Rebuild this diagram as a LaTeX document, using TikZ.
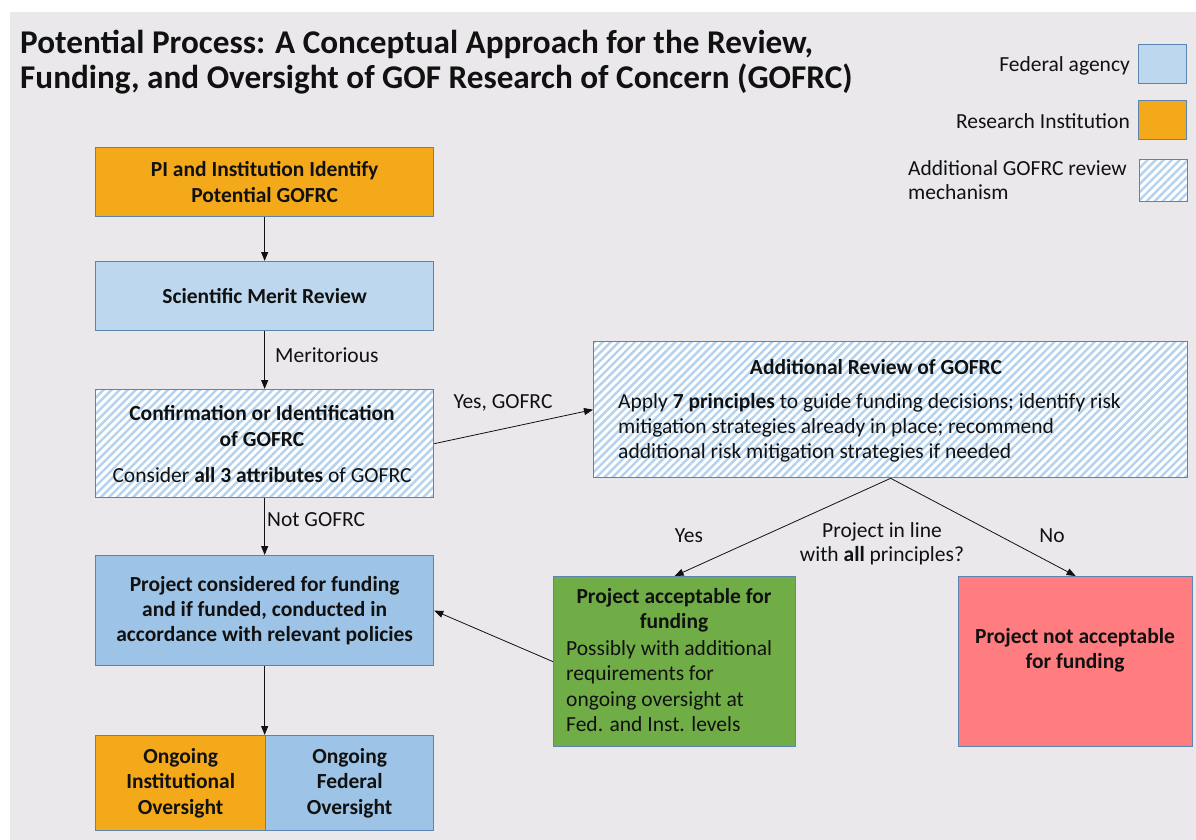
\documentclass[tikz,border=0pt]{standalone}
\usepackage{fontspec}
\setmainfont{Carlito}
\usetikzlibrary{patterns.meta,arrows.meta,calc}
\definecolor{bg}{HTML}{EAE8EB}
\definecolor{bordc}{HTML}{5B84B1}
\definecolor{lblue}{HTML}{BDD7EE}
\definecolor{mblue}{HTML}{9DC3E6}
\definecolor{orng}{HTML}{F4A91B}
\definecolor{grn}{HTML}{70AD47}
\definecolor{rd}{HTML}{FF7C80}
\definecolor{hatchc}{HTML}{B4D2EE}
\definecolor{ink}{HTML}{111111}
\begin{document}
\begin{tikzpicture}[x=1pt,y=-1pt,
 box/.style={draw=bordc,line width=1.3pt,inner sep=0pt,anchor=north west},
 hatch/.style={preaction={fill=white},pattern={Lines[angle=45,distance=5.7pt,line width=2.4pt]},pattern color=hatchc},
 txt/.style={font=\fontsize{21.5}{25.3}\selectfont, align=center, inner sep=0pt, text=ink},
 btxt/.style={txt,font=\fontsize{21.5}{25.3}\selectfont\bfseries},
 lbl/.style={font=\fontsize{21.5}{24.5}\selectfont, inner sep=0pt, text=ink},
 arr/.style={-{Triangle[length=9pt,width=7pt]}, line width=0.8pt, ink}]
\useasboundingbox (0,0) rectangle (1196,840);
\fill[white] (0,0) rectangle (1196,840);
\fill[bg] (10,12) rectangle (1196,840);

% title
\node[anchor=north west, align=left, font=\fontsize{33.2}{35}\selectfont\bfseries, inner sep=0pt, text=ink] (title) at (20,30)
 {Potential Process: A Conceptual Approach for the Review,\\Funding, and Oversight of GOF Research of Concern (GOFRC)};

% legend
\node[box, fill=lblue, minimum width=48, minimum height=39] (lf) at (1138,44) {};
\node[box, fill=orng, minimum width=48, minimum height=39] (lr) at (1138,100) {};
\node[box, hatch, minimum width=48, minimum height=42] (lh) at (1138,158) {};
\node[lbl, anchor=east] (lft) at (1130,66) {Federal agency};
\node[lbl, anchor=east] (lrt) at (1130,121) {Research Institution};
\node[lbl, anchor=west, align=left] (lht) at (908,180) {Additional GOFRC review\\mechanism};

% boxes
\node[box, fill=orng, minimum width=338, minimum height=69] (pi) at (95,147) {};
\node[box, fill=lblue, minimum width=338, minimum height=69] (smr) at (95,261) {};
\node[box, hatch, minimum width=338, minimum height=108] (conf) at (95,389) {};
\node[box, fill=mblue, minimum width=338, minimum height=110] (cons) at (95,555) {};
\node[box, fill=orng, minimum width=170, minimum height=95] (oi) at (95,735) {};
\node[box, fill=mblue, minimum width=168, minimum height=95] (of) at (265,735) {};
\node[box, hatch, minimum width=594, minimum height=136] (add) at (593,341) {};
\node[box, fill=grn, minimum width=242, minimum height=170] (acc) at (553,576) {};
\node[box, fill=rd, minimum width=234, minimum height=170] (nacc) at (958,576) {};

% box texts
\node[btxt] (pit) at (pi.center) {PI and Institution Identify\\Potential GOFRC};
\node[btxt] (smrt) at (smr.center) {Scientific Merit Review};
\node[btxt] (conft) at (262,426) {Confirmation or Identification\\of GOFRC};
\node[txt] (confs) at (262,475) {Consider \textbf{all 3 attributes} of GOFRC};
\node[btxt] (const) at (cons.center) {Project considered for funding\\and if funded, conducted in\\accordance with relevant policies};
\node[btxt] (oit) at (oi.center) {Ongoing\\Institutional\\Oversight};
\node[btxt] (oft) at (of.center) {Ongoing\\Federal\\Oversight};
\node[btxt] (addt) at (876,367) {Additional Review of GOFRC};
\node[txt, anchor=west, align=left] (addb) at (618,428) {Apply \textbf{7 principles} to guide funding decisions; identify risk\\mitigation strategies already in place; recommend\\additional risk mitigation strategies if needed};
\node[btxt] (acct) at (674,610.5) {Project acceptable for\\funding};
\node[txt, anchor=west, align=left] (accb) at (566,686) {Possibly with additional\\requirements for\\ongoing oversight at\\Fed. and Inst. levels};
\node[btxt] (nacct) at (1075,650) {Project not acceptable\\for funding};

% labels
\node[lbl, anchor=west] (l1) at (275,355) {Meritorious};
\node[lbl] (l2) at (503,403) {Yes, GOFRC};
\node[lbl, anchor=west] (l3) at (267,520) {Not GOFRC};
\node[lbl] (l4) at (689,536) {Yes};
\node[lbl, align=center] (l5) at (882,544) {Project in line\\with \textbf{all} principles?};
\node[lbl] (l6) at (1052,536) {No};

% connectors
\draw[arr] (pi.south) -- (smr.north);
\draw[arr] (smr.south) -- (conf.north);
\draw[arr] (conf.east) -- (add.west);
\draw[arr] (conf.south) -- (cons.north);
\draw[arr] (add.south) -- (acc.north);
\draw[arr] (add.south) -- (nacc.north);
\draw[arr] (acc.west) -- (cons.east);
\draw[arr] (cons.south) -- (cons.south |- oi.north);
\end{tikzpicture}
\end{document}
